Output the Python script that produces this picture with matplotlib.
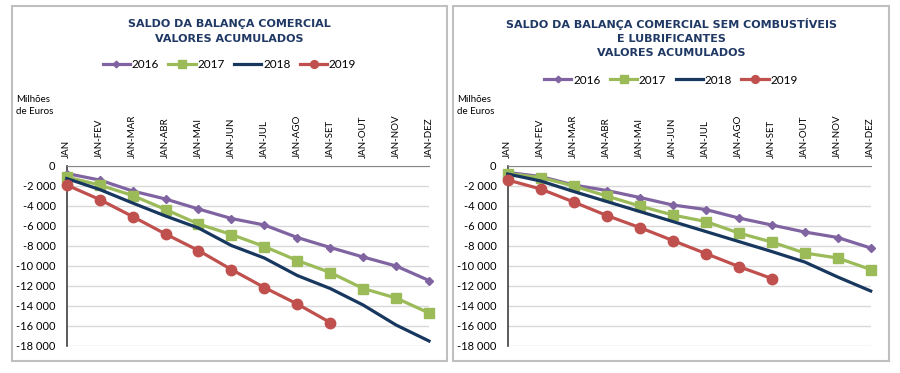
import matplotlib
matplotlib.use('Agg')
import matplotlib.pyplot as plt
from matplotlib.patches import Rectangle
from matplotlib.ticker import FuncFormatter

months = ['JAN', 'JAN-FEV', 'JAN-MAR', 'JAN-ABR', 'JAN-MAI', 'JAN-JUN',
          'JAN-JUL', 'JAN-AGO', 'JAN-SET', 'JAN-OUT', 'JAN-NOV', 'JAN-DEZ']
years = ['2016', '2017', '2018', '2019']

# saldo total (milhoes de euros, acumulado)
total_2016 = [-750, -1400, -2500, -3300, -4300, -5250, -5900, -7150, -8150, -9100, -10000, -11450]
total_2017 = [-1100, -1900, -2950, -4350, -5800, -6850, -8050, -9450, -10650, -12250, -13200, -14700]
total_2018 = [-1250, -2350, -3700, -5000, -6200, -7950, -9200, -10950, -12250, -13900, -15900, -17500]
total_2019 = [-1900, -3350, -5050, -6800, -8450, -10350, -12150, -13800, -15650]

# sem combustiveis e lubrificantes
semcomb_2016 = [-650, -1050, -1900, -2450, -3150, -3900, -4350, -5200, -5900, -6600, -7150, -8200]
semcomb_2017 = [-750, -1150, -2000, -3000, -4000, -4900, -5550, -6700, -7600, -8700, -9200, -10350]
semcomb_2018 = [-800, -1500, -2550, -3550, -4550, -5550, -6550, -7550, -8550, -9600, -11100, -12500]
semcomb_2019 = [-1400, -2300, -3600, -4950, -6150, -7450, -8750, -10050, -11250]

colors = ['#8064A2', '#9BBB59', '#17375E', '#C0504D']
markers = ['D', 's', None, 'o']
msizes = [4.5, 7.5, 0, 7.5]
title_color = '#1F3864'
W, H = 900, 373

fig = plt.figure(figsize=(9, 3.73), dpi=100)


def px_axes(x0, x1, y0, y1):
    return fig.add_axes([x0 / W, 1 - y1 / H, (x1 - x0) / W, (y1 - y0) / H])


def fmt(v, pos):
    v = int(round(v))
    s = f'{abs(v):,}'.replace(',', ' ')
    return ('-' if v < 0 else '') + s


def panel(px0, px1, ax_x0, ax_x1, title_lines, leg_y, series):
    fig.patches.append(Rectangle((px0 / W, 1 - 361 / H), (px1 - px0) / W, 355 / H,
                                 transform=fig.transFigure, fill=False,
                                 edgecolor='#BFBFBF', lw=1.5))
    cx = (px0 + px1) / 2 / W
    for i, line in enumerate(title_lines):
        fig.text(cx, 1 - (24 + 14.5 * i) / H, line, ha='center', va='center',
                 fontsize=8, fontweight='bold', color=title_color,
                 family='DejaVu Sans')
    fig.text((px0 + 4) / W, 1 - 95 / H, 'Milhões\nde Euros', ha='left', va='top',
             fontsize=7, family='Lato', linespacing=1.4)

    ax = px_axes(ax_x0, ax_x1, 166, 346)
    handles = []
    for vals, c, m, ms, lab in zip(series, colors, markers, msizes, years):
        h, = ax.plot(range(len(vals)), vals, color=c, lw=2.3, marker=m,
                     markersize=ms, label=lab, clip_on=False, zorder=3)
        handles.append(h)
    ax.set_xlim(0, 11)
    ax.set_ylim(-18000, 0)
    ax.set_yticks(range(-18000, 1, 2000))
    ax.yaxis.set_major_formatter(FuncFormatter(fmt))
    ax.set_xticks(range(12))
    ax.set_xticklabels(months, rotation=90, family='Lato', fontsize=7)
    ax.xaxis.tick_top()
    ax.tick_params(axis='x', length=0, pad=6)
    ax.tick_params(axis='y', length=0, pad=8, labelsize=8)
    for lb in ax.get_yticklabels():
        lb.set_family('Lato')
    ax.grid(axis='y', color='#D9D9D9', lw=1)
    ax.set_axisbelow(True)
    for s in ['right', 'bottom']:
        ax.spines[s].set_visible(False)
    ax.spines['top'].set_color('#868686')
    ax.spines['left'].set_color('#404040')
    ax.spines['left'].set_linewidth(1.2)

    fig.legend(handles=handles, ncol=4, loc='center',
               bbox_to_anchor=(cx, 1 - leg_y / H), frameon=False,
               prop={'family': 'Lato', 'size': 8.5}, handlelength=2.3,
               handletextpad=0.15, columnspacing=0.8, markerscale=0.75)
    return ax


panel(12, 447, 66.7, 429,
      ['SALDO DA BALANÇA COMERCIAL', 'VALORES ACUMULADOS'], 65,
      [total_2016, total_2017, total_2018, total_2019])
panel(453, 889, 507.7, 870.7,
      ['SALDO DA BALANÇA COMERCIAL SEM COMBUSTÍVEIS', 'E LUBRIFICANTES',
       'VALORES ACUMULADOS'],
      80, [semcomb_2016, semcomb_2017, semcomb_2018, semcomb_2019])

fig.savefig('out.png', dpi=100)
